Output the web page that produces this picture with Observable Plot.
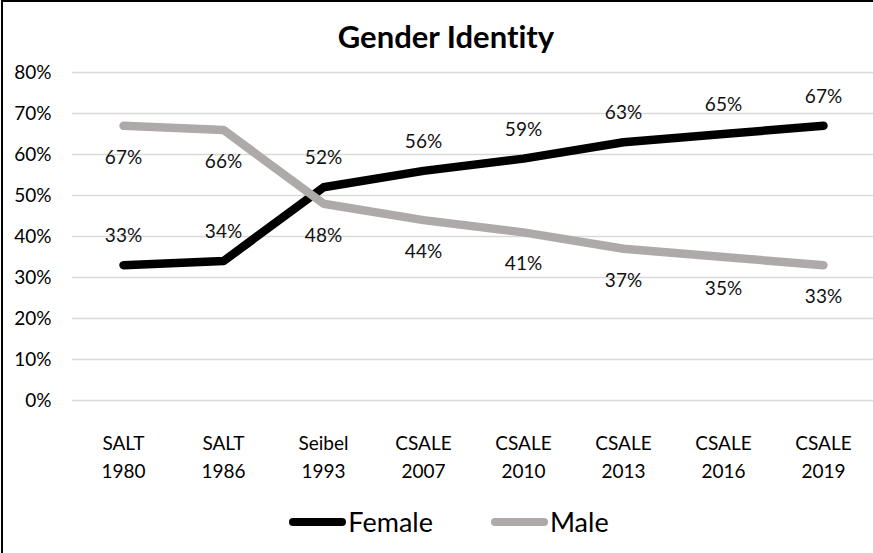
<!DOCTYPE html>
<html><head><meta charset="utf-8">
<script src="https://cdn.jsdelivr.net/npm/d3@7"></script>
<script src="https://cdn.jsdelivr.net/npm/@observablehq/plot@0.6"></script>
<style>
body{margin:0;background:#fff;}
#wrap{position:relative;width:872px;height:553px;box-sizing:border-box;border-left:2px solid #000;border-top:2px solid #000;margin-left:1px;overflow:hidden;font-family:Lato,"Open Sans",sans-serif;background:#fff;font-variant-ligatures:none;}
#title{height:58px;box-sizing:border-box;padding-top:16px;padding-left:16px;line-height:36px;font-size:31px;font-weight:bold;text-align:center;color:#000;}
#legend{height:63px;display:flex;justify-content:center;align-items:center;padding-left:22px;box-sizing:border-box;font-size:27px;color:#000;}
.item{display:flex;align-items:center;margin:0 29px;}
.sw{width:57px;height:8px;border-radius:4px;margin-right:2px;}
svg text{font-variant-ligatures:none;}
</style></head>
<body>
<div id="wrap">
  <div id="title"></div>
  <div id="chart"></div>
  <div id="legend"></div>
</div>
<script>
const title = "Gender Identity";
const categories = ["SALT 1980","SALT 1986","Seibel 1993","CSALE 2007","CSALE 2010","CSALE 2013","CSALE 2016","CSALE 2019"];
const female = [0.33,0.34,0.52,0.56,0.59,0.63,0.65,0.67];
const male   = [0.67,0.66,0.48,0.44,0.41,0.37,0.35,0.33];
const seriesNames = ["Female","Male"];
const seriesColors = ["#000000","#aeaaaa"];
const yTicks = [0,0.1,0.2,0.3,0.4,0.5,0.6,0.7,0.8];

const rows = [];
categories.forEach((c,i)=>{
  rows.push({cat:c, series:"Female", value:female[i]});
  rows.push({cat:c, series:"Male", value:male[i]});
});
const fem = rows.filter(d=>d.series==="Female");
const mal = rows.filter(d=>d.series==="Male");
const pct = d => Math.round(d*100) + "%";

document.getElementById("title").textContent = title;

const chart = Plot.plot({
  width: 870,
  height: 430,
  marginTop: 12,
  marginBottom: 90,
  marginLeft: 69,
  marginRight: 0,
  style: {fontFamily: "Lato, 'Open Sans', sans-serif", background: "transparent", color: "#000"},
  x: {type: "band", domain: categories, padding: 0, label: null},
  y: {domain: [0, 0.8], label: null},
  color: {domain: seriesNames, range: seriesColors},
  marks: [
    Plot.gridY(yTicks, {stroke: "#d9d9d9", strokeOpacity: 1, strokeWidth: 1.5}),
    Plot.axisY(yTicks, {tickSize: 0, tickPadding: 21, tickFormat: pct, fontSize: 19, fill: "#000", label: null}),
    Plot.axisX({tickSize: 0, tickPadding: 30, fontSize: 19, lineHeight: 1.47, fill: "#000", label: null,
      tickFormat: d => d.replace(" ", "\n")}),
    Plot.line(rows, {x: "cat", y: "value", z: "series", stroke: "series", strokeWidth: 8.5, strokeLinecap: "round", strokeLinejoin: "round"}),
    Plot.text(fem, {x: "cat", y: "value", text: d => pct(d.value), dy: -29, fontSize: 19, fill: "#111"}),
    Plot.text(mal, {x: "cat", y: "value", text: d => pct(d.value), dy: 32, fontSize: 19, fill: "#111"})
  ]
});
document.getElementById("chart").appendChild(chart);

const leg = document.getElementById("legend");
seriesNames.forEach((n,i)=>{
  const it = document.createElement("div"); it.className = "item";
  const sw = document.createElement("div"); sw.className = "sw"; sw.style.background = seriesColors[i];
  const tx = document.createElement("span"); tx.textContent = n;
  it.appendChild(sw); it.appendChild(tx); leg.appendChild(it);
});
</script>
</body></html>
